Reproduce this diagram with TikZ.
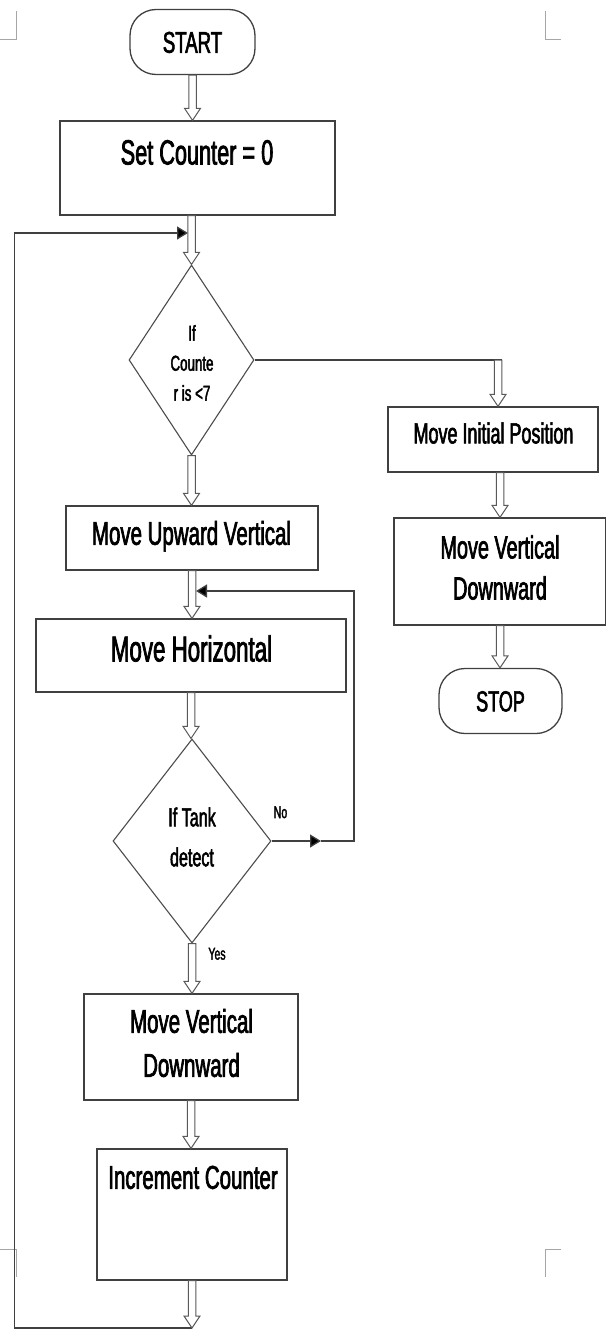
\documentclass[tikz,border=0pt]{standalone}
\usepackage{fontspec}
\setmainfont[FakeStretch=0.62,FakeBold=2]{Liberation Sans}
\usetikzlibrary{shapes.geometric,arrows.meta,calc}
\tikzset{
 box/.style={draw=black!75, line width=1.3pt, rectangle, inner sep=0pt},
 term/.style={draw=black!75, line width=1.3pt, rectangle, rounded corners=26pt, inner sep=0pt},
 dec/.style={draw=black!70, line width=1.1pt, diamond, inner sep=0pt},
 txt/.style={inner sep=0pt, align=center, text=black},
 one/.style={anchor=base},
 flow/.style={draw=black!75, line width=1.3pt},
 tip/.style={-{Triangle[length=11pt,width=13pt,fill=black]}},
 hollow/.style={draw=black!65, line width=1pt, fill=white},
 crop/.style={draw=black!35, line width=1pt}
}
\newcommand{\harrow}[2]{%
 \draw[hollow] let \p1=(#1), \p2=(#2) in
  (\x1-3.75pt,\y1) -- (\x1-3.75pt,\y2+12pt) -- (\x1-8pt,\y2+12pt) -- (\x1,\y2)
  -- (\x1+8pt,\y2+12pt) -- (\x1+3.75pt,\y2+12pt) -- (\x1+3.75pt,\y1) -- cycle;}
\begin{document}
\begin{tikzpicture}[x=1pt,y=-1pt]
\useasboundingbox (0,0) rectangle (605,1330);
% crop marks
\draw[crop] (0,40) -- (16,40) -- (16,11);
\draw[crop] (545,11) -- (545,40) -- (561,40);
\draw[crop] (0,1249) -- (16,1249) -- (16,1277);
\draw[crop] (561,1249) -- (545,1249) -- (545,1277);

% nodes
\node[term, minimum width=125pt, minimum height=65pt, text height=21.5pt, text depth=0pt, font=\fontsize{30}{36}\selectfont] (start) at (192.5,42) {START};

\node[box, minimum width=275pt, minimum height=94pt] (set) at (197.5,168) {};
\node[txt,one,font=\fontsize{35}{42}\selectfont] (sett) at (197,164.5) {Set Counter = 0};

\node[dec, minimum width=125pt, minimum height=190pt] (d1) at (191.5,360) {};
\node[txt,font=\fontsize{21.5}{30}\selectfont] (d1t) at (192,363) {If\\Counte\\r is <7};

\node[box, minimum width=210pt, minimum height=65pt] (mip) at (493,439.5) {};
\node[txt,one,font=\fontsize{29}{35}\selectfont] (mipt) at (493.5,443.4) {Move Initial Position};

\node[box, minimum width=212pt, minimum height=107pt] (mvdr) at (500,571.5) {};
\node[txt,font=\fontsize{32}{41}\selectfont] (mvdrt) at (500,567.5) {Move Vertical\\Downward};

\node[term, minimum width=123pt, minimum height=65pt, text height=20.8pt, text depth=0pt, font=\fontsize{29}{35}\selectfont] (stop) at (500.5,701) {STOP};

\node[box, minimum width=252pt, minimum height=64pt] (mup) at (192,538) {};
\node[txt,one,font=\fontsize{33}{40}\selectfont] (mupt) at (191.5,544.8) {Move Upward Vertical};

\node[box, minimum width=310pt, minimum height=73pt] (mh) at (191,655.5) {};
\node[txt,one,font=\fontsize{36}{43}\selectfont] (mht) at (191.5,661.4) {Move Horizontal};

\node[dec, minimum width=158pt, minimum height=204pt] (d2) at (192,841) {};
\node[txt,font=\fontsize{26}{40}\selectfont] (d2t) at (192,837) {If Tank\\detect};

\node[box, minimum width=214pt, minimum height=106pt] (mvd) at (191,1047) {};
\node[txt,font=\fontsize{33}{44}\selectfont] (mvdt) at (191.5,1043) {Move Vertical\\Downward};

\node[box, minimum width=190pt, minimum height=131pt] (inc) at (192,1214.5) {};
\node[txt,one,font=\fontsize{33}{40}\selectfont] (inct) at (193,1188.8) {Increment Counter};

\node[txt,one,font=\fontsize{17}{20}\selectfont] (no) at (280.5,818.1) {No};
\node[txt,one,font=\fontsize{17}{20}\selectfont] (yes) at (217,959.6) {Yes};

% coordinates
\coordinate (bot) at (192,1328);
\coordinate (lb) at (14.5,1328);
\coordinate (lt) at (14.5,233);
\coordinate (in1) at (188,233);
\coordinate (rb) at (498,360);
\coordinate (noarr) at (321,841);
\coordinate (nr) at (354,841);
\coordinate (nrt) at (354,591);
\coordinate (in2) at (196,591);

% plain connectors
\draw[flow,tip] (bot) -- (lb) -- (lt) -- (in1);
\draw[flow] (d1.east) -- ([xshift=3.75pt]rb);
\draw[flow,tip] (d2.east) -- (noarr);
\draw[flow,tip] (noarr) -- (nr) -- (nrt) -- (in2);

% hollow arrows
\harrow{start.south}{set.north}
\harrow{d1.north |- set.south}{d1.north}
\harrow{d1.south}{mup.north}
\harrow{mup.south}{mh.north}
\harrow{mh.south}{d2.north}
\harrow{d2.south}{mvd.north}
\harrow{mvd.south}{inc.north}
\harrow{inc.south}{bot}
\harrow{rb}{mip.north}
\harrow{mvdr.north |- mip.south}{mvdr.north}
\harrow{mvdr.south}{stop.north}
\end{tikzpicture}
\end{document}
